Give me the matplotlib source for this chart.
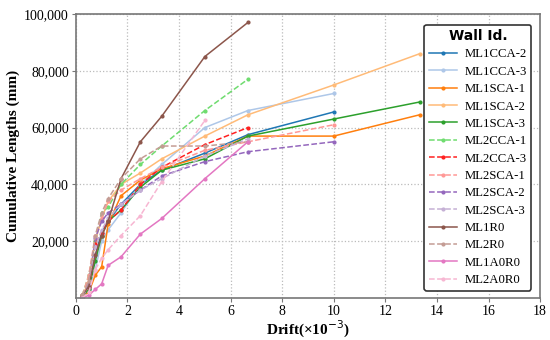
import matplotlib.pyplot as plt
from matplotlib.ticker import FuncFormatter

# drift steps (x10^-3)
drift = [0.25, 0.5, 0.75, 1.0, 1.25, 1.75, 2.5, 3.33, 5.0, 6.67, 10.0, 13.33]

walls = ['ML1CCA-2', 'ML1CCA-3', 'ML1SCA-1', 'ML1SCA-2', 'ML1SCA-3',
         'ML2CCA-1', 'ML2CCA-3', 'ML2SCA-1', 'ML2SCA-2', 'ML2SCA-3',
         'ML1R0', 'ML2R0', 'ML1A0R0', 'ML2A0R0']

ml1cca_2 = [500, 3000, 15000, 23000, 27000, 33000, 40000, 45000, 51000, 57500, 65500]
ml1cca_3 = [500, 3000, 10000, 20000, 24000, 30000, 40000, 47000, 60000, 66000, 72000]
ml1sca_1 = [500, 2000, 8000, 11000, 26000, 36000, 41500, 45500, 50000, 57000, 57000, 64500]
ml1sca_2 = [500, 6000, 20000, 28000, 34000, 40000, 44000, 49000, 57000, 64500, 75000, 86000]
ml1sca_3 = [500, 3000, 13000, 22000, 27000, 31000, 39000, 45000, 49000, 57000, 63000, 69000]
ml2cca_1 = [1000, 8000, 20000, 30000, 32000, 40000, 47000, 53500, 66000, 77000]
ml2cca_3 = [500, 4000, 19000, 23000, 27000, 31000, 40000, 46000, 54000, 60000]
ml2sca_1 = [1000, 8000, 22000, 28000, 34000, 38000, 42000, 46000, 52000, 55000, 61000]
ml2sca_2 = [500, 5000, 21000, 27000, 30000, 33000, 38000, 43000, 48000, 51500, 55000]
ml2sca_3 = [500, 4000, 18000, 24000, 28000, 33000, 38000, 42000, 50000, 56000]
ml1r0 = [1000, 4000, 15000, 22000, 27000, 42000, 55000, 64000, 85000, 97000]
ml2r0 = [1000, 6000, 22000, 30000, 35000, 42000, 49000, 53500, 53500, 55000]
ml1a0r0 = [0, 1000, 3000, 5000, 11500, 14500, 22500, 28000, 42000, 55000]
ml2a0r0 = [0, 2000, 10000, 14000, 17000, 22000, 29000, 41000, 62500]

series = [ml1cca_2, ml1cca_3, ml1sca_1, ml1sca_2, ml1sca_3, ml2cca_1, ml2cca_3,
          ml2sca_1, ml2sca_2, ml2sca_3, ml1r0, ml2r0, ml1a0r0, ml2a0r0]

colors = ['#1f77b4', '#aec7e8', '#ff7f0e', '#ffbb78', '#2ca02c', '#6fdc6f', '#ff2020',
          '#ff9896', '#9467bd', '#c5b0d5', '#8c564b', '#c49c94', '#e377c2', '#f7b6d2']
styles = ['-', '-', '-', '-', '-', '--', '--', '--', '--', '--', '-', '--', '-', '--']

fig, ax = plt.subplots(figsize=(5.5, 3.4), dpi=100)
fig.subplots_adjust(left=0.138, right=0.982, top=0.959, bottom=0.1235)

for name, vals, c, ls in zip(walls, series, colors, styles):
    ax.plot(drift[:len(vals)], vals, ls, color=c, marker='o', markersize=2,
            linewidth=1.1, label=name)

ax.set_xlim(0, 18)
ax.set_ylim(0, 100000)
ax.set_xticks(range(0, 19, 2))
ax.set_yticks(range(20000, 100001, 20000))
ax.yaxis.set_major_formatter(FuncFormatter(lambda v, p: f'{int(v):,}'))
ax.grid(True, linestyle=':', color='#bbbbbb', linewidth=0.9)

serif = ['Liberation Serif', 'DejaVu Serif']
for lab in ax.get_xticklabels() + ax.get_yticklabels():
    lab.set_family(serif)
    lab.set_fontsize(10)
ax.set_xlabel('Drift(×10$^{-3}$)', family=serif, fontsize=11, fontweight='bold', labelpad=1)
ax.set_ylabel('Cumulative Lengths (mm)', family=serif, fontsize=11, fontweight='bold', labelpad=3)

for s in ax.spines.values():
    s.set_color('#777777')
    s.set_linewidth(1.2)
ax.tick_params(length=3, color='#777777', pad=2)

leg = ax.legend(title='Wall Id.', loc='upper right', prop={'family': serif, 'size': 9.2},
                handlelength=2.2, handletextpad=0.6, labelspacing=0.42, borderpad=0.35,
                fancybox=True, framealpha=1, bbox_to_anchor=(0.995, 0.985))
leg.get_title().set_fontweight('bold')
leg.get_title().set_fontsize(10)
leg.get_frame().set_edgecolor('#333333')
leg.get_frame().set_linewidth(1.2)

fig.savefig('out.png', dpi=100)
